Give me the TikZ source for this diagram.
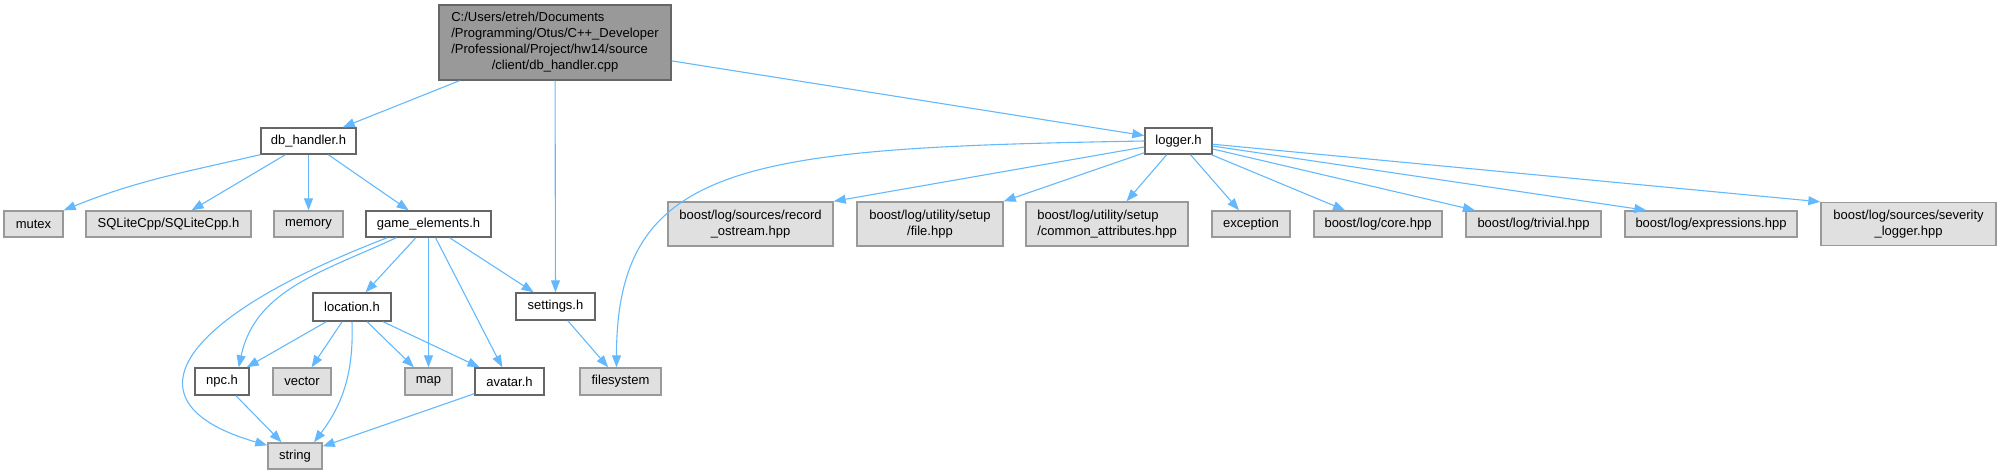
\documentclass[tikz,border=0pt]{standalone}
\usepackage{fontspec}
\setmainfont{Liberation Sans}
\usetikzlibrary{arrows.meta}
\definecolor{edgeblue}{HTML}{63B8FF}
\definecolor{sysfill}{HTML}{E0E0E0}
\definecolor{sysdraw}{HTML}{999999}
\definecolor{hdrdraw}{HTML}{666666}
\definecolor{rootfill}{HTML}{999999}

\begin{document}
\begin{tikzpicture}[x=1pt,y=1pt,
  every node/.style={font=\fontsize{13}{16}\selectfont,inner sep=0pt,minimum height=26pt},
  root/.style={draw=hdrdraw,fill=rootfill,line width=1.4pt},
  hdr/.style={draw=hdrdraw,fill=white,line width=1.4pt},
  sys/.style={draw=sysdraw,fill=sysfill,line width=1.4pt},
  inc/.style={-{Triangle[length=12pt,width=9pt]},edgeblue,line width=1.1pt}]
  \useasboundingbox (0,0) rectangle (2001,475);
  % File being documented
  \node[root,minimum width=232pt,minimum height=75pt] (main) at (555,432.5)
    {\begin{tabular}{@{}l@{}}C:/Users/etreh/Documents\\/Programming/Otus/C++\_Developer\\/Professional/Project/hw14/source\\\multicolumn{1}{@{}c@{}}{/client/db\_handler.cpp}\end{tabular}};
  % Project headers
  \node[hdr,minimum width=95pt] (db) at (308.5,334) {db\_handler.h};
  \node[hdr,minimum width=67pt] (logger) at (1178.5,334) {logger.h};
  \node[hdr,minimum width=125pt] (game) at (428.5,251) {game\_elements.h};
  \node[hdr,minimum width=78pt,minimum height=28pt] (location) at (352,168) {location.h};
  \node[hdr,minimum width=79pt,minimum height=27pt] (settings) at (555.5,168.5) {settings.h};
  \node[hdr,minimum width=54pt,minimum height=27pt] (npc) at (222,93.5) {npc.h};
  \node[hdr,minimum width=69pt,minimum height=27pt] (avatar) at (509.5,93.5) {avatar.h};
  % System and library headers
  \node[sys,minimum width=59pt] (mutex) at (33.5,251) {mutex};
  \node[sys,minimum width=165pt] (sqlite) at (168.5,251) {SQLiteCpp/SQLiteCpp.h};
  \node[sys,minimum width=69pt] (memory) at (308.5,251) {memory};
  \node[sys,minimum width=165pt,minimum height=44pt,align=center] (record) at (750.5,251) {boost/log/sources/record\\\_ostream.hpp};
  \node[sys,minimum width=146pt,minimum height=44pt,align=center] (file) at (930,251) {boost/log/utility/setup\\/file.hpp};
  \node[sys,minimum width=162pt,minimum height=44pt,align=left] (common) at (1107,251) {boost/log/utility/setup\\/common\_attributes.hpp};
  \node[sys,minimum width=78pt] (exception) at (1251,251) {exception};
  \node[sys,minimum width=128pt] (core) at (1378,251) {boost/log/core.hpp};
  \node[sys,minimum width=135pt] (trivial) at (1533.5,251) {boost/log/trivial.hpp};
  \node[sys,minimum width=172pt] (expressions) at (1711,251) {boost/log/expressions.hpp};
  \node[sys,minimum width=175pt,minimum height=43pt,align=center] (severity) at (1908.5,251) {boost/log/sources/severity\\\_logger.hpp};
  \node[sys,minimum width=58pt,minimum height=27pt] (vector) at (302,93.5) {vector};
  \node[sys,minimum width=47pt,minimum height=27pt] (map) at (428.5,93.5) {map};
  \node[sys,minimum width=81pt,minimum height=27pt] (filesystem) at (620.5,93.5) {filesystem};
  \node[sys,minimum width=54pt] (string) at (295,19) {string};
  % Includes of db_handler.cpp
  \draw[inc] (main) -- (db);
  \draw[inc] (main) -- (settings);
  \draw[inc] (main) -- (logger);
  % Includes of db_handler.h
  \draw[inc] (db.south west) to[out=193,in=22] (mutex.north east);
  \draw[inc] (db) -- (sqlite);
  \draw[inc] (db) -- (memory);
  \draw[inc] (db) -- (game);
  % Includes of game_elements.h
  \draw[inc] ([xshift=22pt]game.south west) to[out=201,in=164,out distance=230pt,in distance=150pt] ([yshift=-3pt]string.north west);
  \draw[inc] ([xshift=31pt]game.south west) to[out=205,in=78] ([xshift=-11pt]npc.north east);
  \draw[inc] (game) -- (location);
  \draw[inc] (game) -- (map);
  \draw[inc] (game) -- (avatar);
  \draw[inc] (game) -- (settings);
  % Includes of location.h
  \draw[inc] (location) -- (npc);
  \draw[inc] (location) -- (vector);
  \draw[inc] (location.south) to[out=272,in=53] ([xshift=19pt]string.north);
  \draw[inc] (location) -- (map);
  \draw[inc] (location) -- (avatar);
  % Remaining project includes
  \draw[inc] (settings) -- (filesystem);
  \draw[inc] (npc) -- (string);
  \draw[inc] (avatar) -- (string);
  % Includes of logger.h
  \draw[inc] (logger.west) to[out=181,in=90,out distance=395pt,in distance=207pt] ([xshift=-4pt]filesystem.north);
  \draw[inc] (logger) -- (record.north east);
  \draw[inc] (logger) -- (file.north east);
  \draw[inc] (logger) -- (common);
  \draw[inc] (logger) -- (exception);
  \draw[inc] (logger) -- (core);
  \draw[inc] (logger) -- (trivial);
  \draw[inc] (logger) -- ([xshift=22pt]expressions.north west);
  \draw[inc] (logger) -- (severity.north west);
\end{tikzpicture}
\end{document}
